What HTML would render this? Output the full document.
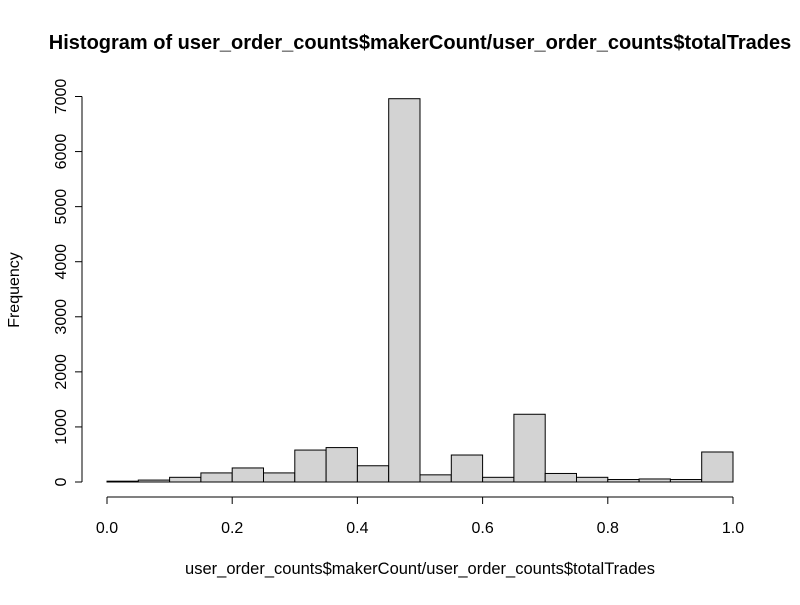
<!DOCTYPE html>
<html><head><meta charset="utf-8"><style>
body{margin:0;background:#fff;}
svg text{font-family:"Liberation Sans",sans-serif;fill:#000;}
</style></head><body>
<svg width="800" height="600" xmlns="http://www.w3.org/2000/svg">
<text x="420" y="49" font-size="20" font-weight="bold" text-anchor="middle">Histogram of user_order_counts$makerCount/user_order_counts$totalTrades</text>
<text x="420" y="574" font-size="16.5" text-anchor="middle">user_order_counts$makerCount/user_order_counts$totalTrades</text>
<text transform="translate(19,290) rotate(-90)" font-size="16" text-anchor="middle">Frequency</text>
<g id="bars"></g>
<g id="xaxis"></g>
<g id="yaxis"></g>
</svg>
<script>
const binStarts=[0,0.05,0.1,0.15,0.2,0.25,0.3,0.35,0.4,0.45,0.5,0.55,0.6,0.65,0.7,0.75,0.8,0.85,0.9,0.95];
const counts=[15,35,85,165,255,165,580,625,295,6960,130,490,85,1230,155,85,45,55,45,545];
const xTicks=[0,0.2,0.4,0.6,0.8,1.0];
const xTickLabels=["0.0","0.2","0.4","0.6","0.8","1.0"];
const yTicks=[0,1000,2000,3000,4000,5000,6000,7000];
const binWidth=0.05;
const NS="http://www.w3.org/2000/svg";
const X=v=>107+v*626;
const Y=v=>482-v*(385.5/7000);
function mk(t,a,p){const e=document.createElementNS(NS,t);for(const k in a)e.setAttribute(k,a[k]);p.appendChild(e);return e;}
const bars=document.getElementById('bars');
counts.forEach((c,i)=>{
 const r=mk('rect',{x:X(binStarts[i]),y:Y(c),width:X(binStarts[i]+binWidth)-X(binStarts[i]),height:Y(0)-Y(c),fill:'#d3d3d3',stroke:'#000','stroke-width':1},bars);
 
 
});
const xa=document.getElementById('xaxis');
mk('line',{x1:X(0),x2:X(1),y1:497,y2:497,stroke:'#000'},xa);
xTicks.forEach((v,i)=>{
 mk('line',{x1:X(v),x2:X(v),y1:497,y2:504,stroke:'#000'},xa);
 const t=mk('text',{x:X(v),y:533,'font-size':16,'text-anchor':'middle'},xa);t.textContent=xTickLabels[i];
 
 
});
const ya=document.getElementById('yaxis');
mk('line',{x1:82,x2:82,y1:Y(0),y2:Y(7000),stroke:'#000'},ya);
yTicks.forEach(v=>{
 mk('line',{x1:75,x2:82,y1:Y(v),y2:Y(v),stroke:'#000'},ya);
 const t=mk('text',{transform:`translate(66,${Y(v)}) rotate(-90)`,'font-size':16,'text-anchor':'middle'},ya);t.textContent=v;
 
 
});
</script>
</body></html>
